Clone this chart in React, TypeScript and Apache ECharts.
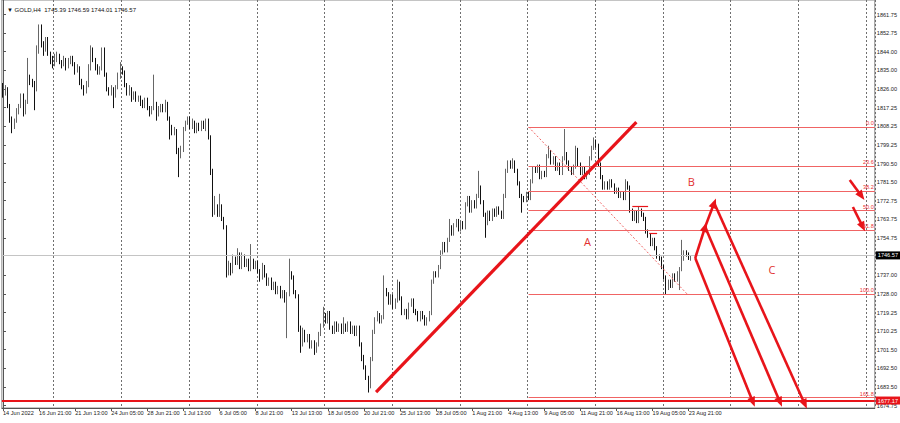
import React, { useEffect, useRef } from "react";
import * as echarts from "echarts";

// ---- data ----
const firstOpen = 1827;
const closes: number[] = [
  1824, 1826, 1818, 1812, 1808, 1811, 1815, 1818, 1823, 1817,
  1820, 1831, 1830, 1829, 1826, 1845, 1855, 1848, 1845, 1849,
  1843, 1840, 1838, 1841, 1842, 1839, 1838, 1840, 1837, 1839,
  1841, 1838, 1835, 1836, 1830, 1827, 1825, 1828, 1836, 1845,
  1840, 1837, 1834, 1836, 1845, 1833, 1826, 1824, 1826, 1823,
  1827, 1832, 1836, 1834, 1828, 1824, 1826, 1822, 1824, 1821,
  1822, 1820, 1818, 1821, 1817, 1815, 1817, 1819, 1814, 1816,
  1818, 1816, 1819, 1812, 1808, 1805, 1806, 1797, 1794, 1797,
  1807, 1810, 1812, 1808, 1810, 1806, 1809, 1807, 1810, 1808,
  1811, 1803, 1786, 1767, 1769, 1766, 1770, 1764, 1760, 1738,
  1742, 1739, 1745, 1743, 1747, 1741, 1746, 1742, 1744, 1740,
  1744, 1741, 1743, 1739, 1736, 1741, 1737, 1733, 1735, 1731,
  1733, 1729, 1731, 1727, 1729, 1726, 1728, 1738, 1736, 1729,
  1727, 1712, 1704, 1710, 1706, 1708, 1703, 1705, 1701, 1704,
  1709, 1713, 1718, 1715, 1719, 1712, 1710, 1714, 1711, 1713,
  1710, 1713, 1711, 1714, 1710, 1712, 1709, 1712, 1704, 1698,
  1693, 1688, 1684, 1697, 1710, 1716, 1718, 1715, 1717, 1730,
  1728, 1724, 1727, 1722, 1725, 1733, 1726, 1719, 1720, 1717,
  1723, 1725, 1720, 1719, 1716, 1719, 1717, 1714, 1716, 1719,
  1734, 1738, 1737, 1741, 1748, 1752, 1749, 1754, 1760, 1757,
  1761, 1763, 1759, 1762, 1760, 1771, 1774, 1768, 1772, 1770,
  1775, 1779, 1772, 1766, 1762, 1767, 1764, 1768, 1766, 1769,
  1767, 1765, 1775, 1787, 1791, 1789, 1791, 1787, 1781, 1775,
  1774, 1773, 1776, 1774, 1782, 1788, 1787, 1789, 1784, 1786,
  1785, 1794, 1796, 1791, 1793, 1788, 1790, 1786, 1793, 1795,
  1791, 1788, 1786, 1789, 1797, 1790, 1786, 1788, 1784, 1786,
  1793, 1798, 1801, 1799, 1790, 1784, 1779, 1781, 1779, 1782,
  1780, 1777, 1778, 1775, 1776, 1774, 1781, 1779, 1768, 1764,
  1767, 1763, 1768, 1766, 1764, 1758, 1756, 1752, 1754, 1750,
  1746, 1745, 1741, 1736, 1731, 1734, 1732, 1737, 1735, 1738,
  1740, 1745, 1748, 1747, 1745.39, 1746.57,
];
const upperWicks: number[] = [
  2, 2, 1, 1, 1, 1, 2, 1, 1, 1,
  1, 10, 2, 1, 1, 2, 2, 2, 1, 2,
  2, 1, 2, 2, 2, 1, 1, 2, 1, 2,
  1, 1, 1, 2, 1, 1, 1, 2, 2, 2,
  1, 1, 1, 1, 1, 1, 1, 1, 2, 1,
  1, 2, 3, 1, 1, 1, 2, 1, 1, 1,
  1, 1, 1, 1, 1, 1, 1, 14, 1, 2,
  1, 1, 2, 1, 1, 1, 2, 1, 1, 2,
  1, 1, 1, 1, 2, 1, 1, 1, 1, 1,
  1, 1, 1, 2, 6, 2, 6, 1, 1, 1,
  2, 1, 2, 1, 3, 1, 2, 1, 1, 1,
  8, 1, 1, 1, 1, 2, 1, 1, 1, 1,
  1, 1, 1, 1, 1, 1, 1, 7, 1, 1,
  1, 1, 1, 2, 1, 1, 1, 1, 1, 1,
  1, 1, 4, 1, 1, 1, 1, 1, 1, 1,
  1, 4, 1, 1, 1, 1, 1, 1, 1, 1,
  1, 1, 1, 1, 1, 1, 2, 1, 1, 7,
  1, 1, 1, 1, 1, 2, 1, 1, 1, 1,
  1, 1, 1, 1, 1, 1, 1, 1, 1, 1,
  1, 1, 1, 1, 1, 1, 1, 1, 4, 1,
  1, 1, 1, 1, 1, 1, 1, 1, 1, 1,
  1, 8, 1, 1, 1, 1, 1, 1, 1, 1,
  1, 1, 1, 1, 1, 1, 2, 1, 1, 1,
  1, 1, 1, 1, 1, 1, 1, 1, 1, 1,
  1, 1, 3, 1, 1, 1, 1, 1, 1, 12,
  1, 1, 1, 1, 2, 1, 1, 1, 1, 1,
  1, 1, 2, 1, 1, 1, 1, 1, 1, 1,
  1, 1, 1, 1, 1, 1, 2, 1, 1, 1,
  1, 1, 2, 1, 1, 1, 1, 1, 1, 1,
  1, 1, 1, 1, 1, 1, 1, 1, 1, 1,
  1, 9, 1, 1, 1, 0.02,
];
const lowerWicks: number[] = [
  2, 1, 1, 2, 3, 1, 1, 1, 1, 4,
  3, 1, 2, 2, 10, 1, 2, 2, 3, 1,
  1, 2, 2, 1, 2, 1, 2, 1, 2, 1,
  1, 1, 2, 1, 2, 1, 2, 1, 1, 1,
  1, 2, 1, 1, 1, 1, 1, 1, 1, 6,
  1, 1, 1, 1, 1, 1, 1, 2, 1, 1,
  1, 2, 1, 1, 1, 2, 1, 1, 3, 1,
  1, 1, 1, 1, 6, 1, 1, 2, 10, 1,
  1, 1, 1, 1, 1, 1, 1, 1, 1, 1,
  2, 1, 1, 2, 1, 1, 1, 1, 1, 2,
  1, 2, 1, 1, 1, 1, 1, 1, 1, 1,
  1, 1, 1, 1, 2, 1, 1, 1, 1, 1,
  1, 1, 1, 1, 1, 2, 19, 1, 1, 1,
  1, 2, 4, 1, 1, 1, 1, 1, 2, 1,
  1, 1, 1, 1, 1, 1, 1, 1, 1, 1,
  1, 1, 1, 1, 1, 1, 1, 1, 1, 2,
  1, 1, 3, 1, 1, 1, 1, 1, 1, 1,
  1, 1, 1, 1, 1, 1, 1, 1, 1, 1,
  1, 1, 1, 1, 1, 1, 1, 1, 1, 1,
  1, 1, 1, 1, 1, 1, 1, 1, 1, 1,
  1, 1, 1, 1, 1, 1, 1, 1, 1, 1,
  1, 1, 1, 1, 7, 1, 1, 1, 1, 1,
  1, 1, 1, 1, 1, 1, 1, 1, 1, 1,
  7, 1, 1, 1, 1, 1, 1, 1, 1, 1,
  1, 1, 1, 1, 1, 1, 1, 1, 1, 1,
  1, 1, 1, 1, 1, 1, 1, 1, 1, 1,
  1, 1, 1, 1, 1, 1, 1, 1, 1, 1,
  1, 1, 1, 1, 1, 1, 1, 1, 1, 1,
  1, 1, 1, 1, 1, 1, 1, 1, 1, 1,
  1, 1, 1, 1, 3, 1, 1, 1, 1, 1,
  8, 1, 1, 1, 1, 1.38,
];
const totalSlots = 387; // bars incl. empty future space
const tickLabels: string[] = [
  "14 Jun 2022", "16 Jun 21:00", "21 Jun 13:00", "24 Jun 05:00", "28 Jun 21:00",
  "1 Jul 13:00", "6 Jul 05:00", "8 Jul 21:00", "13 Jul 13:00", "18 Jul 05:00",
  "20 Jul 21:00", "25 Jul 13:00", "28 Jul 05:00", "1 Aug 21:00", "4 Aug 13:00",
  "9 Aug 05:00", "11 Aug 21:00", "16 Aug 13:00", "19 Aug 05:00", "23 Aug 21:00",
];
const priceTicks: number[] = [
  1861.75, 1852.75, 1844.0, 1835.0, 1826.0, 1817.25, 1808.25, 1799.25, 1790.5,
  1781.5, 1772.75, 1763.75, 1754.75, 1737.0, 1728.0, 1719.25, 1710.25, 1701.5,
  1692.5, 1683.5, 1674.75,
];
const titleText = "\u25BC GOLD,H4  1745.39 1746.59 1744.01 1746.57";
const lastPrice = 1746.57;
const targetPrice = 1677.17;
// Fibonacci retracement (bar index, price)
const fibHigh = 1808.0;
const fibLow = 1728.0;
const fibStartBar = 233;
const fibEndBar = 303.4;
const fibLevels: number[] = [0, 23.6, 38.2, 50, 61.8, 100, 161.8];
// drawn annotations, in (bar index, price)
const trendLine: number[][] = [[165.4, 1681.2], [280.8, 1810.35]];
const arrowSegments: number[][][] = [
  [[306.9, 1745.3], [311.3, 1760.2]],
  [[311.3, 1760.2], [315.3, 1771.6]],
  [[306.9, 1745.3], [332.5, 1676.4]],
  [[311.3, 1760.2], [344.5, 1676.4]],
  [[315.3, 1771.6], [355.5, 1675.4]],
  [[375.4, 1782.6], [380.6, 1775.0]],
  [[376.8, 1769.7], [381.2, 1760.2]],
];
const shortLines: number[][][] = [
  [[279, 1770.2], [286, 1770.2]],
  [[286.5, 1757.3], [290, 1757.3]],
];
const waveLabels: { name: string; bar: number; price: number }[] = [
  { name: "A", bar: 259.1, price: 1753.4 },
  { name: "B", bar: 305.1, price: 1782.1 },
  { name: "C", bar: 340.9, price: 1739.6 },
];

const RED = "#e8141a";
const FIB = "#f06464";
const FS = 5.6;
const FONT = "Liberation Sans, DejaVu Sans, sans-serif";

export default function App() {
  const ref = useRef<HTMLDivElement>(null);
  useEffect(() => {
    if (!ref.current) return;
    const chart = echarts.init(ref.current, null, { renderer: "svg" });

    const categories = Array.from({ length: totalSlots }, (_, i) => String(i));
    const candles = closes.map((c, i) => {
      const o = i === 0 ? firstOpen : closes[i - 1];
      const hi = Math.max(o, c) + upperWicks[i];
      const lo = Math.min(o, c) - lowerWicks[i];
      return [o, c, lo, hi];
    });

    const range = fibLow - fibHigh;
    const fibLines = fibLevels.map((lv) => {
      const p = fibHigh + (range * lv) / 100;
      return [
        {
          coord: [fibStartBar, p],
          label: {
            show: true,
            position: "insideEndTop",
            formatter: lv.toFixed(1),
            color: "#e33",
            fontSize: FS,
            fontFamily: FONT,
            distance: 1,
          },
        },
        { coord: [totalSlots - 0.5, p] },
      ];
    });

    const noLabel = { show: false };
    const annotationLines: any[] = [
      ...fibLines.map((l) => [
        { ...l[0], lineStyle: { color: FIB, width: 1, type: "solid" } },
        l[1],
      ]),
      [
        { coord: [fibStartBar, fibHigh], lineStyle: { color: FIB, width: 1, type: [2, 2] }, label: noLabel },
        { coord: [fibEndBar, fibLow] },
      ],
      [
        { coord: trendLine[0], lineStyle: { color: RED, width: 3.2, type: "solid" }, label: noLabel },
        { coord: trendLine[1] },
      ],
      ...shortLines.map((s) => [
        { coord: s[0], lineStyle: { color: RED, width: 1.2, type: "solid" }, label: noLabel },
        { coord: s[1] },
      ]),
      ...arrowSegments.map((s) => [
        {
          coord: s[0],
          symbol: "none",
          lineStyle: { color: RED, width: 2.6, type: "solid" },
          label: noLabel,
        },
        { coord: s[1], symbol: "triangle", symbolSize: [8, 10] },
      ]),
    ];

    const tickSel = (idx: number) => idx % 16 === 0 && idx / 16 < tickLabels.length;

    chart.setOption({
      animation: false,
      backgroundColor: "#ffffff",
      title: {
        text: titleText,
        left: 2,
        top: 2,
        textStyle: { fontSize: FS + 0.4, fontWeight: "normal", color: "#111", fontFamily: FONT },
      },
      grid: {
        left: 0,
        top: 0,
        width: 875,
        height: 408,
        show: true,
        borderColor: "#8a8a8a",
        borderWidth: 1,
        backgroundColor: "#ffffff",
      },
      xAxis: [
        {
          type: "category",
          data: categories,
          boundaryGap: true,
          axisLine: { show: true, lineStyle: { color: "#555", width: 1 } },
          axisTick: {
            show: true,
            alignWithLabel: true,
            length: 3,
            interval: (idx: number) => tickSel(idx),
            lineStyle: { color: "#555" },
          },
          axisLabel: {
            interval: (idx: number) => tickSel(idx),
            formatter: (_v: string, idx: number) => tickLabels[idx / 16] ?? "",
            align: "left",
            fontSize: FS,
            fontFamily: FONT,
            color: "#222",
            margin: 2,
          },
          splitLine: {
            show: true,
            interval: (idx: number) => idx >= 23 && (idx - 23) % 30 === 0,
            lineStyle: { color: "#6f6f6f", width: 1, type: [2, 2] },
          },
        },
        {
          type: "value",
          min: -0.5,
          max: totalSlots - 0.5,
          show: false,
        },
      ],
      yAxis: {
        type: "value",
        position: "right",
        min: 1673.6,
        max: 1868.7,
        scale: true,
        axisLine: { show: true, lineStyle: { color: "#555", width: 1 } },
        axisTick: { show: true, length: 3, customValues: priceTicks, lineStyle: { color: "#555" } },
        axisLabel: {
          customValues: priceTicks,
          formatter: (v: number) => v.toFixed(2),
          fontSize: FS,
          fontFamily: FONT,
          color: "#222",
          margin: 2,
        },
        splitLine: { show: false },
      },
      series: [
        {
          type: "candlestick",
          name: "GOLD,H4",
          xAxisIndex: 0,
          yAxisIndex: 0,
          data: candles,
          barWidth: 1.3,
          itemStyle: {
            color: "#a0a0a0",
            color0: "#111111",
            borderColor: "#666666",
            borderColor0: "#111111",
            borderWidth: 1,
          },
          markLine: {
            silent: true,
            symbol: "none",
            animation: false,
            data: [
              {
                yAxis: lastPrice,
                lineStyle: { color: "#c4c4c4", width: 1, type: "solid" },
                label: {
                  show: true,
                  position: "end",
                  formatter: lastPrice.toFixed(2),
                  backgroundColor: "#000",
                  color: "#fff",
                  fontSize: FS,
                  fontFamily: FONT,
                  padding: [1, 2, 1, 2],
                  distance: 1,
                },
              },
              {
                yAxis: targetPrice,
                lineStyle: { color: RED, width: 2, type: "solid" },
                label: {
                  show: true,
                  position: "end",
                  formatter: targetPrice.toFixed(2),
                  backgroundColor: RED,
                  color: "#fff",
                  fontSize: FS,
                  fontFamily: FONT,
                  padding: [1, 2, 1, 2],
                  distance: 1,
                },
              },
            ],
          },
        },
        {
          type: "scatter",
          name: "annotations",
          xAxisIndex: 1,
          yAxisIndex: 0,
          data: [],
          markLine: {
            silent: true,
            animation: false,
            symbol: "none",
            data: annotationLines,
          },
          markPoint: {
            silent: true,
            animation: false,
            symbol: "rect",
            symbolSize: 1,
            itemStyle: { color: "rgba(0,0,0,0)" },
            label: {
              show: true,
              position: "inside",
              formatter: "{b}",
              color: "#e23030",
              fontSize: 11,
              fontFamily: "Open Sans, Liberation Sans, sans-serif",
            },
            data: waveLabels.map((w) => ({ name: w.name, coord: [w.bar, w.price] })),
          },
        },
      ],
    });
    return () => chart.dispose();
  }, []);
  return (
    <div
      ref={ref}
      style={{ position: "fixed", left: 0, top: 0, width: 900, height: 423, background: "#fff" }}
    />
  );
}
